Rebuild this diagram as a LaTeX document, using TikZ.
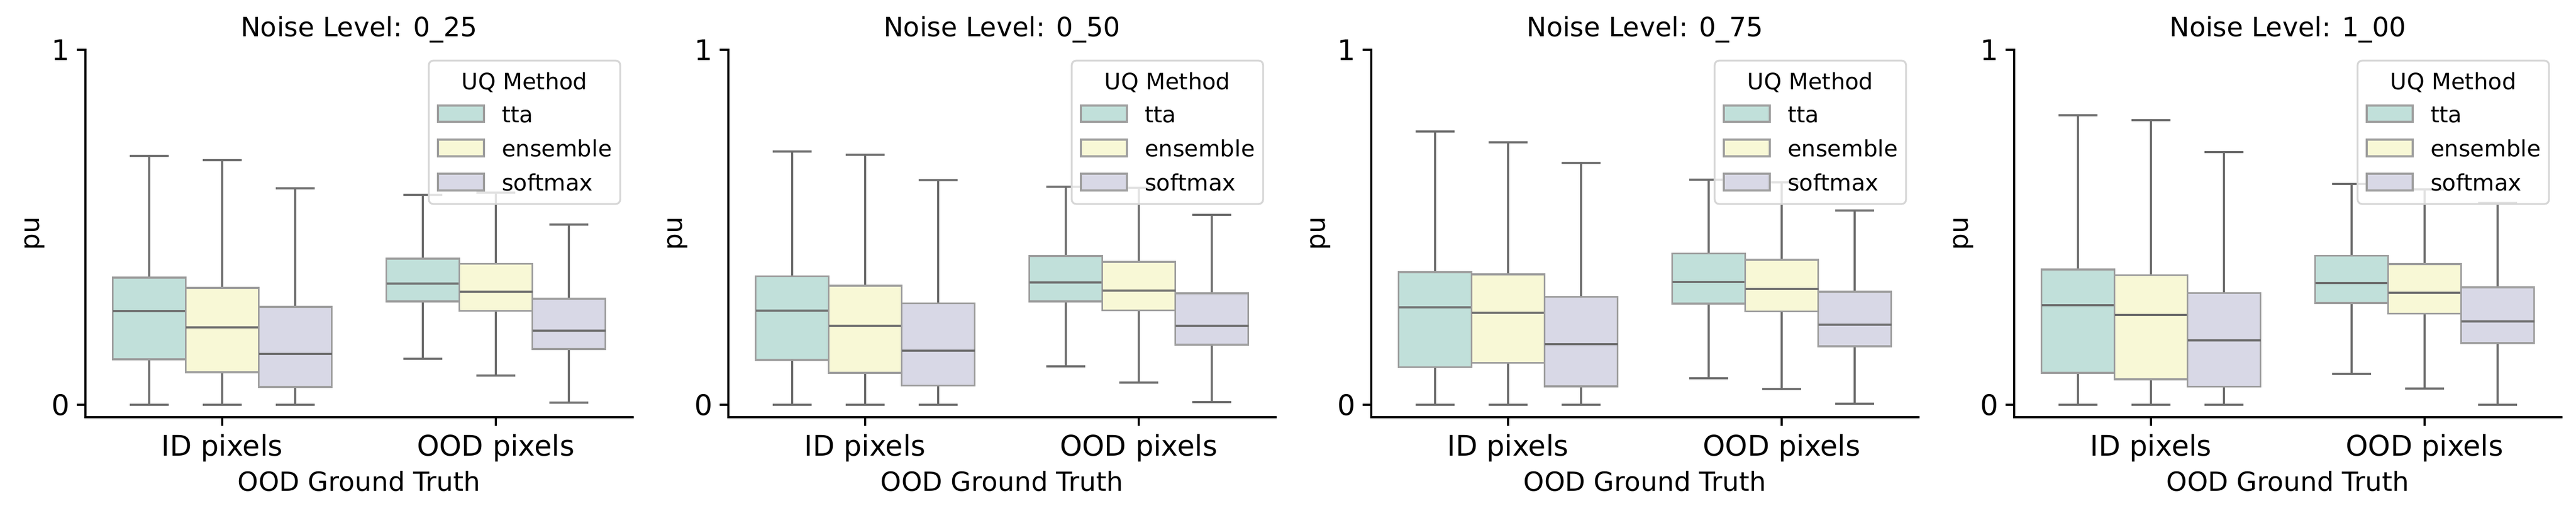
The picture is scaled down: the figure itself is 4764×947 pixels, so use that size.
\documentclass[tikz,border=0pt]{standalone}
\usepackage{fontspec}
\setmainfont{DejaVu Sans}
\definecolor{ctta}{RGB}{193,224,218}
\definecolor{cens}{RGB}{248,248,214}
\definecolor{csoft}{RGB}{216,216,230}
\definecolor{cedge}{RGB}{158,158,158}
\definecolor{cwhisk}{RGB}{110,110,110}
\definecolor{clegedge}{RGB}{214,214,214}
\tikzset{
  whisk/.style={draw=cwhisk, line width=0.96pt},
  medline/.style={draw=cwhisk, line width=0.96pt},
  boxst/.style={draw=cedge, line width=0.9pt},
  spine/.style={draw=black, line width=0.8pt, line cap=rect},
  ticklab/.style={inner sep=0pt, outer sep=0pt, font=\fontsize{12.6pt}{15pt}\selectfont},
  axlab/.style={inner sep=0pt, outer sep=0pt, font=\fontsize{11.7pt}{14pt}\selectfont},
  titlelab/.style={inner sep=0pt, outer sep=0pt, font=\fontsize{11.8pt}{14pt}\selectfont},
  leglab/.style={inner sep=0pt, outer sep=0pt, font=\fontsize{10pt}{12pt}\selectfont},
  legframe/.style={draw=clegedge, line width=0.8pt, fill=white, fill opacity=0.8, rounded corners=2pt},
}
% #1 center x, #2 lo, #3 q1, #4 med, #5 q3, #6 hi, #7 fill
\newcommand{\onebox}[7]{%
  \draw[whisk] (#1,{748-656*#2}) -- (#1,{748-656*#3});
  \draw[whisk] (#1,{748-656*#5}) -- (#1,{748-656*#6});
  \draw[whisk] ({#1-36},{748-656*#2}) -- ({#1+36},{748-656*#2});
  \draw[whisk] ({#1-36},{748-656*#6}) -- ({#1+36},{748-656*#6});
  \draw[boxst, fill=#7] ({#1-67.5},{748-656*#3}) rectangle ({#1+67.5},{748-656*#5});
  \draw[medline] ({#1-67.5},{748-656*#4}) -- ({#1+67.5},{748-656*#4});
}
% #1 = left x of axes, #2 = title text, #3 = id
\newcommand{\axpanel}[3]{%
  \draw[spine] (#1,92) -- (#1,771) -- ({#1+1012},771);
  \draw[spine] ({#1-14},748) -- (#1,748);
  \draw[spine] ({#1-14},92) -- (#1,92);
  \draw[spine] ({#1+253},771) -- ({#1+253},785);
  \draw[spine] ({#1+759},771) -- ({#1+759},785);
  \node[ticklab, anchor=east] (y0#3) at ({#1-29},748) {0};
  \node[ticklab, anchor=east] (y1#3) at ({#1-29},92) {1};
  \node[ticklab, anchor=base] (xid#3) at ({#1+253},842) {ID pixels};
  \node[ticklab, anchor=base] (xood#3) at ({#1+759},842) {OOD pixels};
  \node[axlab, anchor=base] (xl#3) at ({#1+506},907) {OOD Ground Truth};
  \node[axlab, anchor=base, rotate=90] (yl#3) at ({#1-86},432) {pu};
  \node[titlelab, anchor=base] (ti#3) at ({#1+506},67) {Noise Level: #2};
}
\newcommand{\legend}[2]{%
  \draw[legframe] ({#1+635},112) rectangle ({#1+989},377);
  \node[leglab, anchor=base] (lt#2) at ({#1+812},165) {UQ Method};
  \draw[boxst, fill=ctta] ({#1+652},195) rectangle ({#1+737},225);
  \draw[boxst, fill=cens] ({#1+652},258) rectangle ({#1+737},289);
  \draw[boxst, fill=csoft] ({#1+652},321) rectangle ({#1+737},352);
  \node[leglab, anchor=base west] (la#2) at ({#1+770},226) {tta};
  \node[leglab, anchor=base west] (lb#2) at ({#1+770},289) {ensemble};
  \node[leglab, anchor=base west] (lc#2) at ({#1+770},352) {softmax};
}
\begin{document}
\begin{tikzpicture}[x=0.24pt, y=-0.24pt]
\useasboundingbox (0,0) rectangle (4764,947);
% ---------- panel 1 ----------
\onebox{276}{0}{0.128}{0.2645}{0.3585}{0.701}{ctta}
\onebox{411}{0}{0.091}{0.218}{0.329}{0.689}{cens}
\onebox{546}{0}{0.0507}{0.144}{0.2765}{0.610}{csoft}
\onebox{782}{0.129}{0.291}{0.341}{0.412}{0.592}{ctta}
\onebox{917}{0.083}{0.2645}{0.318}{0.397}{0.598}{cens}
\onebox{1052}{0.0055}{0.157}{0.209}{0.2986}{0.508}{csoft}
\axpanel{158}{0\_25}{a}
\legend{158}{a}
% ---------- panel 2 ----------
\onebox{1465}{0}{0.126}{0.266}{0.362}{0.714}{ctta}
\onebox{1600}{0}{0.090}{0.223}{0.335}{0.704}{cens}
\onebox{1735}{0}{0.054}{0.153}{0.286}{0.632}{csoft}
\onebox{1971}{0.109}{0.291}{0.345}{0.419}{0.614}{ctta}
\onebox{2106}{0.062}{0.266}{0.322}{0.403}{0.612}{cens}
\onebox{2241}{0.007}{0.169}{0.222}{0.314}{0.535}{csoft}
\axpanel{1347}{0\_50}{b}
\legend{1347}{b}
% ---------- panel 3 ----------
\onebox{2654}{0}{0.106}{0.274}{0.373}{0.770}{ctta}
\onebox{2789}{0}{0.118}{0.259}{0.367}{0.740}{cens}
\onebox{2924}{0}{0.052}{0.171}{0.304}{0.681}{csoft}
\onebox{3160}{0.074}{0.285}{0.346}{0.426}{0.634}{ctta}
\onebox{3295}{0.045}{0.263}{0.327}{0.409}{0.626}{cens}
\onebox{3430}{0.003}{0.165}{0.225}{0.319}{0.548}{csoft}
\axpanel{2536}{0\_75}{c}
\legend{2536}{c}
% ---------- panel 4 ----------
\onebox{3843}{0}{0.090}{0.280}{0.381}{0.816}{ctta}
\onebox{3978}{0}{0.072}{0.253}{0.365}{0.802}{cens}
\onebox{4113}{0}{0.051}{0.182}{0.315}{0.712}{csoft}
\onebox{4349}{0.087}{0.287}{0.343}{0.420}{0.622}{ctta}
\onebox{4484}{0.046}{0.257}{0.316}{0.396}{0.606}{cens}
\onebox{4619}{0}{0.174}{0.235}{0.331}{0.569}{csoft}
\axpanel{3725}{1\_00}{d}
\legend{3725}{d}
\end{tikzpicture}
\end{document}
